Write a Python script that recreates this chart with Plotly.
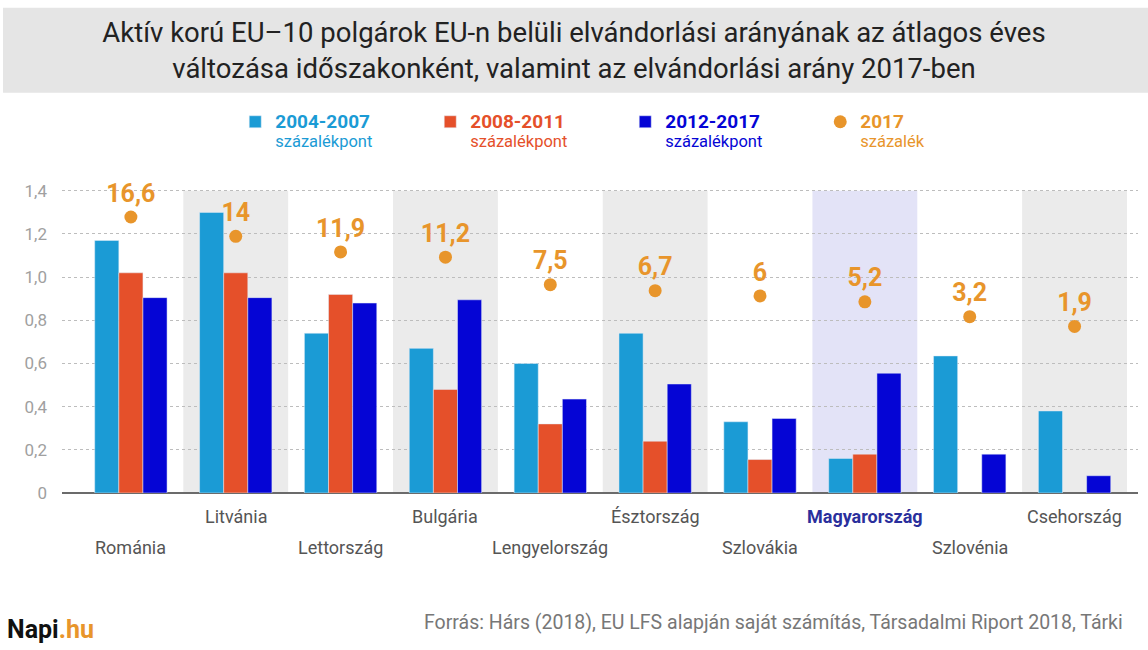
import plotly.graph_objects as go

categories = ["Románia", "Litvánia", "Lettország", "Bulgária", "Lengyelország",
              "Észtország", "Szlovákia", "Magyarország", "Szlovénia", "Csehország"]
v_2004_2007 = [1.17, 1.30, 0.74, 0.67, 0.60, 0.74, 0.33, 0.16, 0.635, 0.38]
v_2008_2011 = [1.02, 1.02, 0.92, 0.48, 0.32, 0.24, 0.155, 0.18, None, None]
v_2012_2017 = [0.905, 0.905, 0.88, 0.895, 0.435, 0.505, 0.345, 0.555, 0.18, 0.08]
rate_2017 = [16.6, 14, 11.9, 11.2, 7.5, 6.7, 6, 5.2, 3.2, 1.9]
y_ticks = [0, 0.2, 0.4, 0.6, 0.8, 1.0, 1.2, 1.4]
y_ticklabels = ["0", "0,2", "0,4", "0,6", "0,8", "1,0", "1,2", "1,4"]
band_kind = ["white", "gray", "white", "gray", "white", "gray", "white", "lavender", "white", "gray"]

C_CYAN = "#1b9bd5"
C_RED = "#e5502a"
C_BLUE = "#0505d5"
C_ORANGE = "#e8952b"
FONT = "Roboto"

def fmt(v):
    return f"{v:g}".replace(".", ",")

def lname(top, bottom, color):
    return (f"<span style='color:{color}'><b><span style='font-size:19px'>{top}</span></b><br>"
            f"<span style='font-size:16.5px'>{bottom}</span></span>")

fig = go.Figure()
fig.add_bar(x=categories, y=v_2004_2007, marker_color=C_CYAN,
            name=lname("2004-2007", "százalékpont", C_CYAN))
fig.add_bar(x=categories, y=v_2008_2011, marker_color=C_RED,
            name=lname("2008-2011", "százalékpont", C_RED))
fig.add_bar(x=categories, y=v_2012_2017, marker_color=C_BLUE,
            name=lname("2012-2017", "százalékpont", C_BLUE))
fig.add_scatter(x=categories, y=rate_2017, yaxis="y2", mode="markers+text",
                marker=dict(size=13, color=C_ORANGE),
                text=[fmt(v) for v in rate_2017], textposition="top center",
                textfont=dict(family=FONT, size=25, color=C_ORANGE, weight="bold"),
                name=lname("2017", "százalék", C_ORANGE))

# secondary scale for the 2017 rate dots
y_max = 1.45
p0, slope = 0.7063, 0.03448
y2_range = [(0 - p0) / slope, (y_max - p0) / slope]

shapes = []
band_colors = {"gray": "#ebebeb", "lavender": "#e3e3f7"}
for i, kind in enumerate(band_kind):
    if kind in band_colors:
        shapes.append(dict(type="rect", xref="x", yref="y", x0=i - 0.5, x1=i + 0.5,
                           y0=0, y1=1.4, fillcolor=band_colors[kind], line_width=0,
                           layer="below"))

# title band
shapes.append(dict(type="rect", xref="paper", yref="paper",
                   x0=-0.0548, x1=1.01, y0=1.279, y1=1.55,
                   fillcolor="#e5e5e5", line_width=0, layer="below"))

annotations = []
for i, c in enumerate(categories):
    upper = (i % 2 == 1)
    is_hu = (c == "Magyarország")
    annotations.append(dict(
        x=c, y=0, xref="x", yref="y", yanchor="top", showarrow=False,
        yshift=-11 if upper else -42,
        text=f"<b>{c}</b>" if is_hu else c,
        font=dict(family=FONT, size=18, color="#2a2f9c" if is_hu else "#555555")))

annotations.append(dict(
    xref="paper", yref="paper", x=-0.053, y=-0.435, xanchor="left", yanchor="middle",
    showarrow=False,
    text="<b>Napi<span style='color:#e8952b'>.hu</span></b>",
    font=dict(family=FONT, size=25, color="#111111")))
annotations.append(dict(
    xref="paper", yref="paper", x=0.3346, y=-0.415, xanchor="left", yanchor="middle",
    showarrow=False,
    text="Forrás: Hárs (2018), EU LFS alapján saját számítás, Társadalmi Riport 2018, Tárki",
    font=dict(family=FONT, size=19.5, color="#777777")))

fig.update_layout(
    width=1148, height=650,
    margin=dict(l=62, r=10, t=180, b=157),
    paper_bgcolor="white", plot_bgcolor="rgba(0,0,0,0)",
    font=dict(family=FONT, color="#555555"),
    barmode="group", bargap=0.31, bargroupgap=0,
    title=dict(
        text="Aktív korú EU–10 polgárok EU-n belüli elvándorlási arányának az átlagos éves<br>"
             "változása időszakonként, valamint az elvándorlási arány 2017-ben",
        xref="container", x=0.5, xanchor="center", yref="container", y=0.935,
        yanchor="middle", font=dict(family=FONT, size=27.5, color="#222222")),
    legend=dict(orientation="h", xref="paper", yref="paper", x=0.161, y=1.238,
                xanchor="left", yanchor="top", valign="top",
                entrywidth=150, entrywidthmode="pixels",
                font=dict(family=FONT, size=15), bgcolor="rgba(0,0,0,0)",
                traceorder="normal"),
    xaxis=dict(type="category", range=[-0.657, 9.605], showticklabels=False,
               showgrid=False, zeroline=False, showline=False, fixedrange=True),
    yaxis=dict(range=[0, y_max], tickvals=y_ticks, ticktext=y_ticklabels,
               showgrid=True, gridcolor="#bdbdbd", griddash="dot", gridwidth=1,
               zeroline=True, zerolinecolor="#6b6b6b", zerolinewidth=2,
               tickfont=dict(family=FONT, size=17, color="#a0a0a0"),
               ticklabelstandoff=14, showline=False),
    yaxis2=dict(overlaying="y", range=y2_range, visible=False),
    shapes=shapes, annotations=annotations,
    showlegend=True,
)

fig.write_html("out.html", config={"displayModeBar": False},
               post_script="document.body.style.margin='0';")
